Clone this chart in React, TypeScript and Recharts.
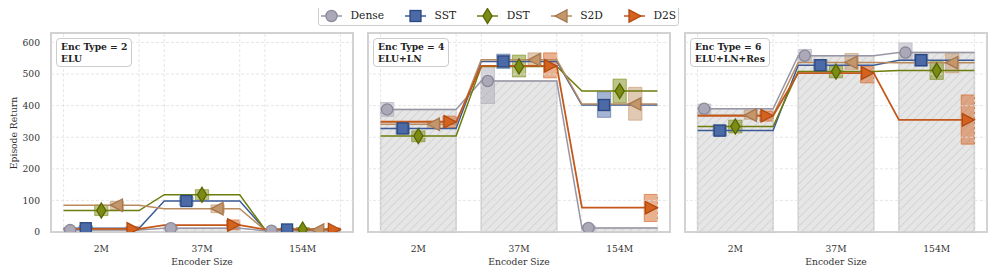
import React from "react";
import {
  ComposedChart,
  XAxis,
  YAxis,
  Line,
  Scatter,
  ReferenceArea,
  ReferenceLine,
} from "recharts";

const encoderSizes = ["2M", "37M", "154M"];
const encTypes = [2, 4, 6];
const encNames = ["ELU", "ELU+LN", "ELU+LN+Res"];
const yTicks = [0, 100, 200, 300, 400, 500, 600];
const seriesNames = ["Dense", "SST", "DST", "S2D", "D2S"];

// [panel][encoder size]
const denseMean = [[6, 12, 4], [388, 478, 13], [390, 558, 568]];
const denseLo = [[2, 6, 1], [366, 407, 5], [373, 541, 546]];
const denseHi = [[12, 20, 8], [410, 526, 20], [405, 578, 599]];

const sstMean = [[12, 98, 8], [328, 540, 402], [321, 528, 544]];
const sstLo = [[6, 84, 3], [310, 518, 363], [304, 510, 525]];
const sstHi = [[20, 112, 13], [344, 563, 444], [339, 546, 563]];

const dstMean = [[68, 118, 8], [304, 524, 446], [334, 508, 511]];
const dstLo = [[52, 101, 3], [286, 491, 409], [314, 488, 483]];
const dstHi = [[85, 134, 14], [320, 560, 484], [354, 525, 539]];

const s2dMean = [[85, 74, 6], [341, 545, 405], [370, 537, 536]];
const s2dLo = [[70, 61, 2], [328, 528, 354], [357, 515, 504]];
const s2dHi = [[97, 86, 10], [351, 567, 458], [386, 565, 565]];

const d2sMean = [[10, 22, 8], [349, 526, 77], [368, 503, 355]];
const d2sLo = [[5, 7, 3], [330, 488, 33], [351, 472, 278]];
const d2sHi = [[17, 38, 13], [367, 567, 119], [383, 525, 434]];

const means = [denseMean, sstMean, dstMean, s2dMean, d2sMean];
const lows = [denseLo, sstLo, dstLo, s2dLo, d2sLo];
const highs = [denseHi, sstHi, dstHi, s2dHi, d2sHi];

const SERIF = "DejaVu Serif, Liberation Serif, serif";
const BAND = 0.375;
const BOX = 0.066;
const PLOT_W = 302;
const PLOT_X = [51, 368, 685];

const styles = [
  { line: "#9896a5", fill: "#aba9b8", edge: "#8a8898", shape: "circle", off: -0.31, lw: 1.5 },
  { line: "#3b5a96", fill: "#4b6aa6", edge: "#2b4880", shape: "square", off: -0.155, lw: 1.5 },
  { line: "#6d7c0c", fill: "#7c8b14", edge: "#566500", shape: "diamond", off: 0, lw: 1.5 },
  { line: "#b98b5f", fill: "#c49669", edge: "#a57850", shape: "left", off: 0.155, lw: 1.5 },
  { line: "#c4571a", fill: "#d4631f", edge: "#b04a12", shape: "right", off: 0.31, lw: 1.8 },
];

function Marker({ shape, cx, cy, fill, edge }: any) {
  const common = { fill, stroke: edge, strokeWidth: 1.3 };
  if (shape === "circle") return <circle cx={cx} cy={cy} r={5.6} {...common} />;
  if (shape === "square")
    return <rect x={cx - 5.5} y={cy - 5.5} width={11} height={11} {...common} />;
  if (shape === "diamond")
    return (
      <polygon
        points={`${cx},${cy - 7.5} ${cx + 4.6},${cy} ${cx},${cy + 7.5} ${cx - 4.6},${cy}`}
        {...common}
      />
    );
  if (shape === "left")
    return (
      <polygon
        points={`${cx - 6.5},${cy} ${cx + 5.5},${cy - 6.2} ${cx + 5.5},${cy + 6.2}`}
        {...common}
      />
    );
  return (
    <polygon
      points={`${cx + 6.5},${cy} ${cx - 5.5},${cy - 6.2} ${cx - 5.5},${cy + 6.2}`}
      {...common}
    />
  );
}

function Panel({ p }: { p: number }) {
  const showY = p === 0;
  const yW = showY ? 51 : 0;
  const plotX = PLOT_X[p];

  const rows: any[] = [];
  encoderSizes.forEach((_, i) => {
    [-BAND, BAND].forEach((e) => {
      const row: any = { x: i + e };
      seriesNames.forEach((name, s) => (row[name] = means[s][p][i]));
      rows.push(row);
    });
  });

  const gridX = encoderSizes.flatMap((_, i) => [i - BAND, i + BAND]);
  const hatchId = `hatch-${p}`;

  return (
    <>
      <div
        style={{
          position: "absolute",
          left: plotX - 1,
          top: 32,
          width: PLOT_W + 2,
          height: 201,
          border: "2px solid #d2d2d2",
          boxSizing: "border-box",
          background: "#fff",
        }}
      />
      <div style={{ position: "absolute", left: plotX - yW, top: 0 }}>
        <ComposedChart
          width={PLOT_W + yW}
          height={275}
          data={rows}
          margin={{ top: 33, right: 0, bottom: 0, left: 0 }}
        >
          <defs>
            <pattern
              id={hatchId}
              width={6}
              height={6}
              patternUnits="userSpaceOnUse"
              patternTransform="rotate(45)"
            >
              <rect width={6} height={6} fill="#e6e6e6" />
              <line x1={0} y1={0} x2={0} y2={6} stroke="#c9c9c9" strokeWidth={1.2} />
            </pattern>
          </defs>
          <XAxis
            type="number"
            dataKey="x"
            domain={[-0.5, 2.5]}
            ticks={[0, 1, 2]}
            interval={0}
            allowDataOverflow
            tickFormatter={(v: number) => encoderSizes[v]}
            height={43}
            axisLine={false}
            tickLine={false}
            tickSize={0}
            tickMargin={13}
            tick={{ fill: "#333", fontSize: 9.2, fontFamily: SERIF }}
          />
          <YAxis
            type="number"
            dataKey="y"
            domain={[0, 630]}
            ticks={yTicks}
            interval={0}
            allowDataOverflow
            hide={!showY}
            width={yW}
            axisLine={false}
            tickLine={false}
            tickSize={0}
            tickMargin={11}
            tick={{ fill: "#333", fontSize: 9.2, fontFamily: SERIF }}
          />
          {yTicks.slice(1).map((t) => (
            <ReferenceLine
              key={`h${t}`}
              y={t}
              stroke="#e0e0e0"
              strokeDasharray="3 2"
              strokeWidth={0.8}
            />
          ))}
          {gridX.map((g) => (
            <ReferenceLine
              key={`v${g}`}
              x={g}
              stroke="#e0e0e0"
              strokeDasharray="3 2"
              strokeWidth={0.8}
            />
          ))}
          {encoderSizes.map((_, i) => (
            <ReferenceArea
              key={`bar${i}`}
              x1={i - BAND}
              x2={i + BAND}
              y1={0}
              y2={denseMean[p][i]}
              fill={`url(#${hatchId})`}
              fillOpacity={1}
              stroke="#cbcbcb"
              strokeWidth={1.5}
            />
          ))}
          {seriesNames.map((name, s) => (
            <Line
              key={`l${name}`}
              dataKey={name}
              type="linear"
              stroke={styles[s].line}
              strokeWidth={styles[s].lw}
              dot={false}
              activeDot={false}
              isAnimationActive={false}
            />
          ))}
          {seriesNames.flatMap((name, s) =>
            encoderSizes.map((_, i) => (
              <ReferenceArea
                key={`box${name}${i}`}
                x1={i + styles[s].off - BOX}
                x2={i + styles[s].off + BOX}
                y1={lows[s][p][i]}
                y2={highs[s][p][i]}
                fill={styles[s].fill}
                fillOpacity={0.5}
                stroke={styles[s].fill}
                strokeOpacity={0.6}
                strokeWidth={1}
              />
            ))
          )}
          {seriesNames.map((name, s) => (
            <Scatter
              key={`m${name}`}
              name={name}
              dataKey="y"
              data={encoderSizes.map((_, i) => ({
                x: i + styles[s].off,
                y: means[s][p][i],
              }))}
              isAnimationActive={false}
              shape={(props: any) => (
                <Marker
                  shape={styles[s].shape}
                  cx={props.cx}
                  cy={props.cy}
                  fill={styles[s].fill}
                  edge={styles[s].edge}
                />
              )}
            />
          ))}
        </ComposedChart>
      </div>
      <div
        style={{
          position: "absolute",
          left: plotX + 5,
          top: 38,
          padding: "2px 4px",
          border: "1.5px solid #cccccc",
          borderRadius: 4,
          background: "#fff",
          fontFamily: SERIF,
          fontWeight: "bold",
          fontSize: 9.2,
          lineHeight: "11.6px",
          color: "#222",
          whiteSpace: "nowrap",
        }}
      >
        <div>Enc Type = {encTypes[p]}</div>
        <div>{encNames[p]}</div>
      </div>
      <div
        style={{
          position: "absolute",
          left: plotX + PLOT_W / 2,
          top: 261,
          transform: "translate(-50%, -50%)",
          fontFamily: SERIF,
          fontSize: 9.2,
          color: "#333",
          whiteSpace: "nowrap",
        }}
      >
        Encoder Size
      </div>
    </>
  );
}

function Legend() {
  return (
    <div
      style={{
        position: "absolute",
        left: 318,
        top: 5,
        width: 361,
        height: 21,
        border: "1px solid #cccccc",
        borderRadius: 3,
        background: "#fff",
        boxSizing: "border-box",
        display: "flex",
        alignItems: "center",
        paddingLeft: 2,
        fontFamily: SERIF,
        fontSize: 10.7,
        color: "#222",
      }}
    >
      {seriesNames.map((name, s) => (
        <div
          key={name}
          style={{ display: "flex", alignItems: "center", marginRight: s < 4 ? 21 : 0 }}
        >
          <svg width={21} height={16} style={{ overflow: "visible" }}>
            <line x1={0} y1={8} x2={21} y2={8} stroke={styles[s].line} strokeWidth={1.5} />
            <Marker
              shape={styles[s].shape}
              cx={10.5}
              cy={8}
              fill={styles[s].fill}
              edge={styles[s].edge}
            />
          </svg>
          <span style={{ marginLeft: 8.5, whiteSpace: "nowrap" }}>{name}</span>
        </div>
      ))}
    </div>
  );
}

export default function App() {
  return (
    <div style={{ position: "relative", width: 997, height: 275, background: "#fff", margin: -8 }}>
      <Legend />
      {[0, 1, 2].map((p) => (
        <Panel key={p} p={p} />
      ))}
      <div
        style={{
          position: "absolute",
          left: 13.3,
          top: 132.5,
          transform: "translate(-50%, -50%) rotate(-90deg)",
          fontFamily: SERIF,
          fontSize: 9.2,
          color: "#333",
          whiteSpace: "nowrap",
        }}
      >
        Episode Return
      </div>
    </div>
  );
}
